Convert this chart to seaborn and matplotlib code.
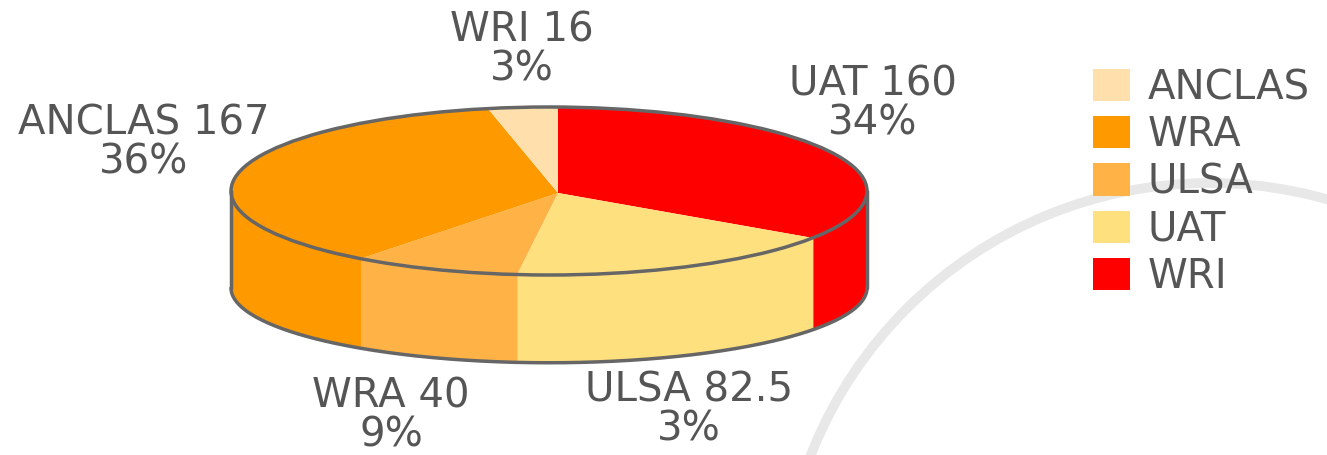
import numpy as np
import matplotlib
matplotlib.use('Agg')
import matplotlib.pyplot as plt
from matplotlib.patches import Ellipse, Patch
import seaborn as sns

# slice data, clockwise from 12 o'clock
slice_names = ['UAT', 'ULSA', 'WRA', 'ANCLAS', 'WRI']
slice_values = [160, 82.5, 40, 167, 16]
slice_percent = ['34%', '3%', '9%', '36%', '3%']
slice_colors = ['#FF0000', '#FFE07F', '#FFB347', '#FF9900', '#FFE0AC']

# legend as shown in the original, names don't line up with slices
legend_names = ['ANCLAS', 'WRA', 'ULSA', 'UAT', 'WRI']
legend_colors = ['#FFE0AC', '#FF9900', '#FFB347', '#FFE07F', '#FF0000']

W, H = 1327, 455
CX, CY, RX, RY = 549, 191, 318, 84
EDGE = '#666666'
TEXT = '#555555'


def px(x, y):
    # pixel position -> data units of the flattened pie
    return (x - CX) / RX, (CY - y) / RY


sns.set_theme(style='white')
plt.rcParams['font.family'] = ['DejaVu Sans']

fig = plt.figure(figsize=(W / 100, H / 100), dpi=100)
ax = fig.add_axes([0, 0, 1, 1])

# pale ring in the background
ring_c = px(1210, 612)
ax.add_patch(Ellipse(ring_c, 2 * 429 / RX, 2 * 429 / RY, fill=False, ec='#E8E8E8', lw=7, zorder=0))

# top face: pie apex sits a bit off the ellipse centre, so clip to the rim
apex = px(558, 193)
wedges, _ = ax.pie(slice_values, colors=slice_colors, startangle=90, counterclock=False,
                   center=apex, radius=1.15, wedgeprops={'lw': 0})
ax.set_aspect('auto')
rim = Ellipse((0, 0), 2, 2, fill=False, ec=EDGE, lw=2.5, zorder=5)
ax.add_patch(rim)
for w in wedges:
    w.set_zorder(3)
    w.set_clip_on(True)
    w.set_clip_path(rim)

# where each slice boundary hits the rim
bounds = 90 - np.cumsum([0] + slice_values) / np.sum(slice_values) * 360
p = np.array(apex)
rim_t = []
for b in bounds:
    d = np.array([np.cos(np.radians(b)), np.sin(np.radians(b))])
    s = -p @ d + np.sqrt((p @ d) ** 2 - p @ p + 1)
    q = p + s * d
    rim_t.append(np.arctan2(q[1], q[0]))
rim_t = np.array(rim_t)

# side wall, only the front half of the rim shows
drop = 97 / RY
squash = 0.89


def wall_bottom(t):
    return -drop + squash * np.sin(t)


for i, col in enumerate(slice_colors):
    t0, t1 = rim_t[i], rim_t[i + 1]
    if t1 > t0:
        t1 -= 2 * np.pi
    t = np.linspace(min(t0, 0), max(t1, -np.pi), 120)
    if t[0] <= t[-1]:
        continue
    ax.fill_between(np.cos(t), wall_bottom(t), np.sin(t), color=col, lw=0, zorder=2)

t = np.linspace(-np.pi, 0, 300)
ax.plot(np.cos(t), wall_bottom(t), color=EDGE, lw=2.5, zorder=4)
ax.plot([-1, -1], [0, -drop], color=EDGE, lw=2.5, zorder=4)
ax.plot([1, 1], [0, -drop], color=EDGE, lw=2.5, zorder=4)

# slice labels
label_pos = [(873, 104), (689, 410), (391, 416), (144, 143), (522, 50)]
for name, val, pct, pos in zip(slice_names, slice_values, slice_percent, label_pos):
    ax.text(*px(*pos), f'{name} {val}\n{pct}', ha='center', va='center', fontsize=29,
            color=TEXT, linespacing=0.95, zorder=6)

handles = [Patch(fc=c, ec='none') for c in legend_colors]
ax.legend(handles, legend_names, loc='upper left', bbox_to_anchor=(1093 / W, 1 - 68 / H), frameon=False,
          fontsize=29, labelcolor=TEXT, borderpad=0, borderaxespad=0, handlelength=0.93, handleheight=0.85,
          handletextpad=0.42, labelspacing=0.18)

ax.set_xlim(*sorted([px(0, 0)[0], px(W, 0)[0]]))
ax.set_ylim(px(0, H)[1], px(0, 0)[1])
ax.axis('off')

fig.savefig('out.png', dpi=100, facecolor='white')
plt.close(fig)
